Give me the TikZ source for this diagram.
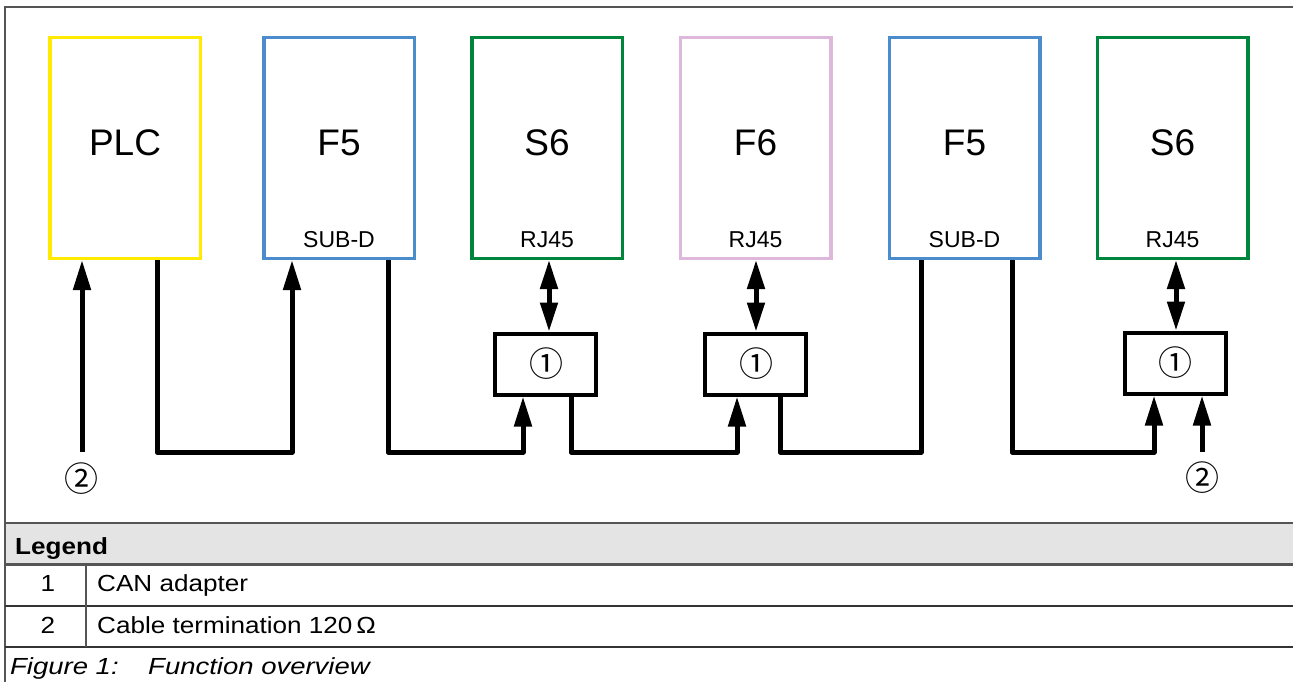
\documentclass[tikz,border=0pt]{standalone}
\usepackage{fontspec}
\setmainfont{Liberation Sans}
\newfontfamily\symfont{Noto Sans CJK JP}
\newfontfamily\legfont[FakeStretch=1.12]{Liberation Sans}
\newfontfamily\capfont[FakeStretch=1.18]{Liberation Sans}
\usetikzlibrary{arrows.meta,calc}
\definecolor{plcyellow}{RGB}{255,234,0}
\definecolor{fblue}{RGB}{74,140,204}
\definecolor{sgreen}{RGB}{0,133,60}
\definecolor{fpink}{RGB}{222,184,218}
\definecolor{framegray}{RGB}{85,85,85}
\definecolor{headgray}{RGB}{228,228,228}
\tikzset{
  devbox/.style={draw, line width=3.5pt, minimum width=150.5pt, minimum height=220.5pt, inner sep=0pt},
  adbox/.style={draw, line width=4pt, minimum width=101pt, minimum height=61pt, inner sep=0pt},
  biglabel/.style={anchor=base, inner sep=0pt, font=\fontsize{37}{42}\selectfont},
  portlabel/.style={anchor=base, inner sep=0pt, font=\fontsize{23}{27}\selectfont},
  circnum/.style={inner sep=0pt, font=\symfont\fontsize{34}{38}\selectfont},
  bus/.style={line width=5pt, line join=round},
  busarr/.style={bus, -{Triangle[length=30pt,width=17pt]}},
  dblarr/.style={bus, {Triangle[length=29pt,width=17pt]}-{Triangle[length=29pt,width=17pt]}},
  legtext/.style={anchor=base west, inner sep=0pt, font=\legfont\fontsize{23.3}{27}\selectfont},
  legnum/.style={anchor=base, inner sep=0pt, font=\legfont\fontsize{23.3}{27}\selectfont},
  captext/.style={anchor=base west, inner sep=0pt, font=\capfont\itshape\fontsize{23.3}{27}\selectfont},
  rule/.style={draw=framegray, line width=2pt}
}
\begin{document}
\begin{tikzpicture}[x=1pt,y=-1pt]
\useasboundingbox (0,0) rectangle (1293,682);
% legend header fill
\fill[headgray] (5,523) rectangle (1293,564);
% frame and rules
\draw[rule] (5,682) -- (5,7) -- (1293,7);
\draw[rule] (5,523) -- (1293,523);
\draw[draw=framegray, line width=3pt] (5,564) -- (1293,564);
\draw[draw=black!80, line width=2pt] (5,606) -- (1293,606);
\draw[draw=black!80, line width=2pt] (5,647) -- (1293,647);
\draw[rule] (85.5,564) -- (85.5,647);

% device boxes
\node[devbox, draw=plcyellow] (plc) at (125,148) {};
\node[devbox, draw=fblue] (f5a) at (339,148) {};
\node[devbox, draw=sgreen] (s6a) at (547,148) {};
\node[devbox, draw=fpink] (f6) at (755.5,148) {};
\node[devbox, draw=fblue] (f5b) at (964.5,148) {};
\node[devbox, draw=sgreen] (s6b) at (1172.5,148) {};

\node[biglabel] (lplc) at (125,155) {PLC};
\node[biglabel] (lf5a) at (339,155) {F5};
\node[biglabel] (ls6a) at (547,155) {S6};
\node[biglabel] (lf6) at (755.5,155) {F6};
\node[biglabel] (lf5b) at (964.5,155) {F5};
\node[biglabel] (ls6b) at (1172.5,155) {S6};

\node[portlabel] (pf5a) at (339,247) {SUB-D};
\node[portlabel] (ps6a) at (547,247) {RJ45};
\node[portlabel] (pf6) at (755.5,247) {RJ45};
\node[portlabel] (pf5b) at (964.5,247) {SUB-D};
\node[portlabel] (ps6b) at (1172.5,247) {RJ45};

% adapters
\node[adbox] (a1) at (545.5,364) {};
\node[adbox] (a2) at (755.5,364) {};
\node[adbox] (a3) at (1175.5,363) {};
\node[circnum] (c1) at (546.3,364) {①};
\node[circnum] (c2) at (756,364) {①};
\node[circnum] (c3) at (1175.5,363) {①};

% bus coordinates
\coordinate (t1) at (82,452);
\coordinate (b1) at (157,452);
\coordinate (b2) at (292,452);
\coordinate (b3) at (388,452);
\coordinate (b4) at (523,452);
\coordinate (b5) at (571,452);
\coordinate (b6) at (737,452);
\coordinate (b7) at (780,452);
\coordinate (b8) at (921,452);
\coordinate (b9) at (1012,452);
\coordinate (b10) at (1154,452);
\coordinate (t2) at (1202,452);
\coordinate (d1) at (549,0);
\coordinate (d2) at (756,0);
\coordinate (d3) at (1176,0);

\draw[busarr] (t1) -- (plc.south -| t1);
\draw[busarr] (plc.south -| b1) -- (b1) -- (b2) -- (f5a.south -| b2);
\draw[busarr] (f5a.south -| b3) -- (b3) -- (b4) -- (a1.south -| b4);
\draw[busarr] (a1.south -| b5) -- (b5) -- (b6) -- (a2.south -| b6);
\draw[bus] (a2.south -| b7) -- (b7) -- (b8) -- (f5b.south -| b8);
\draw[busarr] (f5b.south -| b9) -- (b9) -- (b10) -- (a3.south -| b10);
\draw[busarr] (t2) -- (a3.south -| t2);

\draw[dblarr] (s6a.south -| d1) -- (a1.north -| d1);
\draw[dblarr] (f6.south -| d2) -- (a2.north -| d2);
\draw[dblarr] (s6b.south -| d3) -- (a3.north -| d3);

\node[circnum] (n2a) at (81,479) {②};
\node[circnum] (n2b) at (1202,478) {②};

% legend
\node[legtext, font=\legfont\bfseries\fontsize{23.3}{27}\selectfont] (lg) at (15,554) {Legend};
\node[legnum] (r1n) at (48,591) {1};
\node[legtext] (r1t) at (97,591) {CAN adapter};
\node[legnum] (r2n) at (48,633) {2};
\node[legtext] (r2t) at (97,633) {Cable termination 120\,Ω};
\node[captext] (cap1) at (10,674) {Figure 1:};
\node[captext] (cap2) at (148,674) {Function overview};
\end{tikzpicture}
\end{document}
